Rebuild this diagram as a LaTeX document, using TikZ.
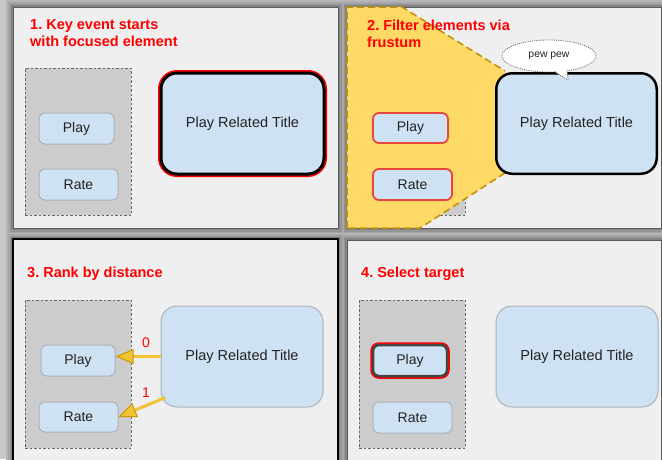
\documentclass[tikz,border=0pt]{standalone}
\usepackage{fontspec}
\setmainfont{Liberation Sans}
\usetikzlibrary{shapes.callouts,arrows.meta}
\definecolor{bgc}{HTML}{C8C8C8}
\definecolor{sha}{HTML}{B6B6B6}
\definecolor{shb}{HTML}{A6A6A6}
\definecolor{shc}{HTML}{959595}
\definecolor{shd}{HTML}{858585}
\definecolor{panelc}{HTML}{EFEFEF}
\definecolor{panelline}{HTML}{5A5A5A}
\definecolor{grpc}{HTML}{CCCCCC}
\definecolor{grpline}{HTML}{666666}
\definecolor{btnc}{HTML}{CFE2F3}
\definecolor{btnline}{HTML}{ABB2B9}
\definecolor{txt}{HTML}{222222}
\definecolor{frc}{HTML}{FFD966}
\definecolor{frline}{HTML}{BF9000}
\definecolor{gold}{HTML}{F1C232}
\definecolor{tipline}{HTML}{C99A06}
\definecolor{redline}{HTML}{E8453C}
\definecolor{ttlred}{HTML}{FF0000}
\definecolor{darkline}{HTML}{444444}
\frenchspacing
\begin{document}
\begin{tikzpicture}[x=1pt,y=-1pt,
  panel/.style={fill=panelc, draw=panelline, line width=1},
  grp/.style={rectangle, fill=grpc, draw=grpline, line width=0.9, dash pattern=on 2.5pt off 2pt, inner sep=0},
  btn/.style={rectangle, rounded corners=6, fill=btnc, draw=btnline, line width=1, text=txt, font=\fontsize{14}{16}\selectfont, inner sep=0},
  big/.style={btn, rounded corners=16, font=\fontsize{14.5}{17}\selectfont},
  ttl/.style={anchor=north west, inner sep=0, text=ttlred, font=\fontsize{14.5}{17}\selectfont\bfseries, align=left},
  rank/.style={draw=gold, line width=3, -{Triangle[length=18,width=15,line width=1pt,fill=gold,color=tipline]}},
  num/.style={text=ttlred, font=\fontsize{14}{16}\selectfont, inner sep=0}
]
\useasboundingbox (0,0) rectangle (662,459);
\fill[bgc] (0,0) rectangle (662,459);
% shadows
\foreach \a/\b/\c/\d in {13/7/338/228, 347/7/661/228, 13/239/338/470, 347/240/661/470} {
  \fill[sha] (\a-7,\b-7) rectangle (\c+7,\d+7);
}
\foreach \a/\b/\c/\d in {13/7/338/228, 347/7/661/228, 13/239/338/470, 347/240/661/470} {
  \fill[shb] (\a-5,\b-5) rectangle (\c+5,\d+5);
}
\foreach \a/\b/\c/\d in {13/7/338/228, 347/7/661/228, 13/239/338/470, 347/240/661/470} {
  \fill[shc] (\a-3.5,\b-3.5) rectangle (\c+3.5,\d+3.5);
}
\foreach \a/\b/\c/\d in {13/7/338/228, 347/7/661/228, 13/239/338/470, 347/240/661/470} {
  \fill[shd] (\a-2,\b-2) rectangle (\c+2,\d+2);
}
% panels
\draw[panel] (13,7) rectangle (338,228);
\draw[panel] (347,7) rectangle (661,228);
\draw[panel, draw=black, line width=1.4] (13,239) rectangle (338,470);
\draw[panel] (347,240) rectangle (661,470);

% ---------- Panel 1 ----------
\node[ttl] (t1) at (30,19.5) {1. Key event starts\\with focused element};
\node[grp, minimum width=106, minimum height=147] (g1) at (78,141.5) {};
\node[btn, minimum width=75, minimum height=31] (play1) at (76.5,128.5) {Play};
\node[btn, minimum width=79, minimum height=31] (rate1) at (78.5,184.5) {Rate};
\node[big, minimum width=163, minimum height=101, draw=black, line width=3,
      preaction={draw=red, line width=6}] (big1) at (242.5,123.5) {Play Related Title};

% ---------- Panel 2 ----------
\node[grp, minimum width=106, minimum height=147] (g2) at (412,141.5) {};
\fill[frc] (347,7) -- (402,7) -- (505,71) -- (505,173) -- (420,228) -- (347,228) -- cycle;
\draw[frline, line width=1.5, dash pattern=on 7pt off 4pt] (347,228) -- (347,7) -- (402,7) -- (505,71);
\draw[frline, line width=1.5, dash pattern=on 7pt off 4pt] (505,173) -- (420,228) -- (347,228);
\node[ttl] (t2) at (367,20) {2. Filter elements via\\frustum};
\node[btn, minimum width=75, minimum height=30, draw=redline, line width=1.8] (play2) at (410.5,128) {Play};
\node[btn, minimum width=79, minimum height=31, draw=redline, line width=1.8] (rate2) at (412.5,184.5) {Rate};
\node[big, minimum width=160.5, minimum height=100.5, draw=black, line width=2.5] (big2) at (576.5,123.5) {Play Related Title};
\node[ellipse callout, fill=white, draw=grpline, line width=0.8, dash pattern=on 1pt off 1.2pt,
      minimum width=94, minimum height=32, inner sep=0, text=txt, font=\fontsize{10.4}{12}\selectfont,
      callout absolute pointer={(568,80)}] (pew) at (549,56) {pew pew};

% ---------- Panel 3 ----------
\node[ttl] (t3) at (27,266.5) {3. Rank by distance};
\node[grp, minimum width=106, minimum height=148] (g3) at (78,374) {};
\node[btn, minimum width=74, minimum height=31] (play3) at (78,360.5) {Play};
\node[btn, minimum width=79, minimum height=30] (rate3) at (78.5,417) {Rate};
\node[big, minimum width=162, minimum height=101] (big3) at (242,356.5) {Play Related Title};
\draw[rank] (big3.west) -- (play3.east |- big3.west);
\draw[rank] ([shift={(5,-10)}]big3.south west) -- (rate3.east);
\node[num] (n0) at (146,343) {0};
\node[num] (n1) at (146,393) {1};

% ---------- Panel 4 ----------
\node[ttl] (t4) at (361,266.5) {4. Select target};
\node[grp, minimum width=106, minimum height=148] (g4) at (412,374) {};
\node[btn, minimum width=74, minimum height=31, draw=darkline, line width=2.5,
      preaction={draw=red, line width=5.5}] (play4) at (410,360.5) {Play};
\node[btn, minimum width=79, minimum height=31] (rate4) at (412.5,417.5) {Rate};
\node[big, minimum width=162, minimum height=101] (big4) at (577,356.5) {Play Related Title};
\end{tikzpicture}
\end{document}
